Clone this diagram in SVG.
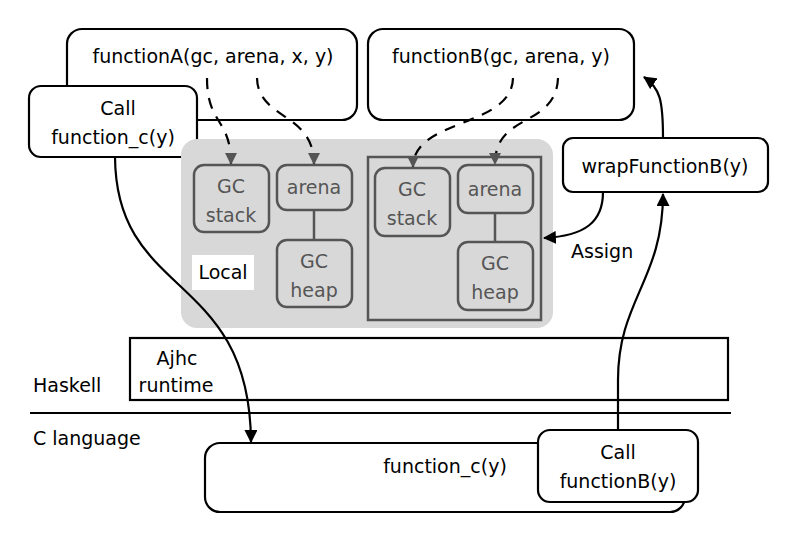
<svg xmlns="http://www.w3.org/2000/svg" width="800" height="547" viewBox="0 0 800 547">
<defs>
<style>
.box{fill:#fff;stroke:#000;stroke-width:2.2}
.gbox{fill:#d8d8d8;stroke:#555;stroke-width:2.5}
.t{font-family:"DejaVu Sans",Verdana,sans-serif;font-size:19px;fill:#000;text-anchor:middle}
.tl{font-family:"DejaVu Sans",Verdana,sans-serif;font-size:19px;fill:#000}
.g{font-family:"DejaVu Sans",Verdana,sans-serif;font-size:19px;fill:#555;text-anchor:middle}
.dash{fill:none;stroke:#000;stroke-width:2.2;stroke-dasharray:11,9}
.solid{fill:none;stroke:#000;stroke-width:2.2}
</style>
<marker id="ag" viewBox="0 0 12 12" refX="11" refY="6" markerWidth="12" markerHeight="12" markerUnits="userSpaceOnUse" orient="auto">
<path d="M0,0 L12,6 L0,12 Z" fill="#555"/>
</marker>
<marker id="ab" viewBox="0 0 12 12" refX="11" refY="6" markerWidth="13" markerHeight="13" markerUnits="userSpaceOnUse" orient="auto">
<path d="M0,0 L12,6 L0,12 Z" fill="#000"/>
</marker>
</defs>

<g id="functionA"><rect class="box" x="67" y="29" width="290" height="91" rx="15"/><text class="t" x="213" y="63">functionA(gc, arena, x, y)</text></g>
<g id="functionB"><rect class="box" x="368" y="29" width="266" height="91" rx="15"/><text class="t" x="501" y="63">functionB(gc, arena, y)</text></g>
<g id="callC"><rect class="box" x="29" y="86" width="168" height="71" rx="12"/><text class="t" x="118" y="115">Call</text><text class="t" x="113" y="144">function_c(y)</text></g>

<g id="local">
<rect x="181" y="139" width="372" height="189" rx="16" fill="#d8d8d8"/>
<rect x="368" y="157" width="173" height="163" fill="none" stroke="#555" stroke-width="2.5"/>
<rect x="192" y="255" width="62" height="35" fill="#fff"/>
<text class="t" x="223" y="279">Local</text>
</g>
<g id="gcstackL"><rect class="gbox" x="194" y="165" width="75" height="67" rx="10"/><text class="g" x="231" y="193">GC</text><text class="g" x="231" y="222">stack</text></g>
<g id="arenaL"><rect class="gbox" x="277" y="165" width="75" height="45" rx="10"/><text class="g" x="314" y="194">arena</text></g>
<g id="heapL"><rect class="gbox" x="277" y="240" width="75" height="67" rx="10"/><text class="g" x="314" y="268">GC</text><text class="g" x="314" y="297">heap</text></g>
<g id="gcstackR"><rect class="gbox" x="375" y="168" width="75" height="68" rx="10"/><text class="g" x="412" y="196">GC</text><text class="g" x="412" y="225">stack</text></g>
<g id="arenaR"><rect class="gbox" x="458" y="165" width="75" height="48" rx="10"/><text class="g" x="495" y="196">arena</text></g>
<g id="heapR"><rect class="gbox" x="458" y="242" width="75" height="68" rx="10"/><text class="g" x="495" y="270">GC</text><text class="g" x="495" y="299">heap</text></g>

<g id="wrapB"><rect class="box" x="563" y="138" width="205" height="54" rx="10"/><text class="t" x="665" y="173">wrapFunctionB(y)</text></g>

<g id="runtime"><rect x="130" y="338" width="598" height="62" fill="#fff" stroke="#000" stroke-width="2.2"/><text class="t" x="177" y="365">Ajhc</text><text class="t" x="176" y="392">runtime</text></g>
<g id="labels">
<text class="tl" x="33" y="392">Haskell</text>
<line x1="30" y1="413" x2="731" y2="413" stroke="#000" stroke-width="2.2"/>
<text class="tl" x="33" y="445">C language</text>
<text class="tl" x="571" y="258">Assign</text>
</g>

<g id="functionC"><rect class="box" x="205" y="443" width="480" height="69" rx="15"/><text class="t" x="445" y="473">function_c(y)</text></g>
<g id="callB"><rect class="box" x="538" y="430" width="160" height="72" rx="12"/><text class="t" x="618" y="459">Call</text><text class="t" x="618" y="488">functionB(y)</text></g>

<g id="connectors">
<line x1="314" y1="210" x2="314" y2="240" stroke="#555" stroke-width="2.5"/>
<line x1="495" y1="213" x2="495" y2="242" stroke="#555" stroke-width="2.5"/>
<path class="dash" d="M207,78 C207,125 231,118 231,164" marker-end="url(#ag)"/>
<path class="dash" d="M257,78 C258,120 314,112 314,164" marker-end="url(#ag)"/>
<path class="dash" d="M513,78 C512,128 413,118 413,167" marker-end="url(#ag)"/>
<path class="dash" d="M558,78 C556,128 495,112 495,164" marker-end="url(#ag)"/>
<path class="solid" d="M663,138 C663,100 660,88 644,77" marker-end="url(#ab)"/>
<path class="solid" d="M603,192 C603,222 585,236 544,238" marker-end="url(#ab)"/>
<path class="solid" d="M618,430 L618,380 C618,300 663,280 663,194" marker-end="url(#ab)"/>
<path class="solid" d="M115,157 C116,300 250,270 251,442" marker-end="url(#ab)"/>
</g>
</svg>
